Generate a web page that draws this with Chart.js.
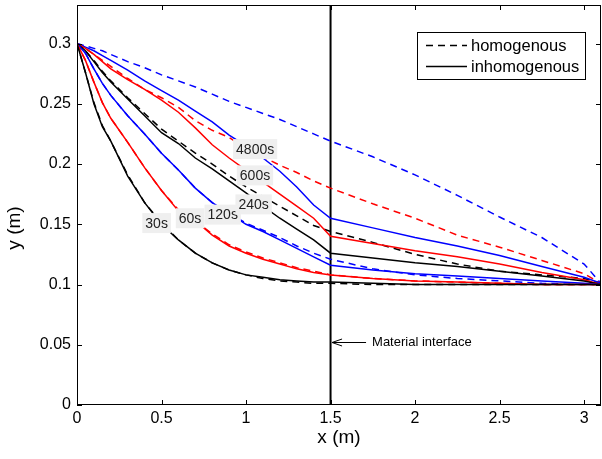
<!DOCTYPE html>
<html>
<head>
<meta charset="utf-8">
<title>Profiles</title>
<script src="https://cdn.jsdelivr.net/npm/chart.js@4.4.0/dist/chart.umd.min.js"></script>
<style>
  body { margin: 0; background: #fff; }
  canvas { display: block; }
</style>
</head>
<body>
<canvas id="chart" width="602" height="459"></canvas>
<script>
// x positions (m) shared by every profile
const xGrid = [0, 0.05, 0.1, 0.15, 0.2, 0.3, 0.4, 0.5, 0.6, 0.7, 0.8, 0.9, 1.0, 1.1, 1.2, 1.3, 1.4, 1.5, 1.75, 2.0, 2.25, 2.5, 2.75, 3.0, 3.1];

// inhomogenous (solid)
const inh30   = [0.300, 0.276, 0.250, 0.231, 0.219, 0.190, 0.168, 0.150, 0.137, 0.126, 0.118, 0.112, 0.108, 0.106, 0.104, 0.103, 0.102, 0.102, 0.101, 0.100, 0.100, 0.100, 0.100, 0.100, 0.100];
const inh60   = [0.300, 0.286, 0.268, 0.251, 0.238, 0.218, 0.197, 0.178, 0.161, 0.153, 0.141, 0.132, 0.126, 0.121, 0.117, 0.113, 0.110, 0.108, 0.105, 0.103, 0.102, 0.101, 0.100, 0.100, 0.100];
const inh120  = [0.300, 0.292, 0.279, 0.267, 0.257, 0.240, 0.225, 0.209, 0.195, 0.180, 0.168, 0.159, 0.150, 0.144, 0.137, 0.130, 0.123, 0.116, 0.112, 0.109, 0.107, 0.105, 0.103, 0.101, 0.100];
const inh240  = [0.300, 0.294, 0.285, 0.276, 0.268, 0.254, 0.240, 0.226, 0.217, 0.205, 0.196, 0.186, 0.176, 0.165, 0.155, 0.146, 0.137, 0.126, 0.122, 0.118, 0.115, 0.111, 0.107, 0.103, 0.100];
const inh600  = [0.300, 0.296, 0.291, 0.285, 0.279, 0.270, 0.262, 0.253, 0.243, 0.230, 0.216, 0.205, 0.195, 0.185, 0.175, 0.165, 0.155, 0.140, 0.134, 0.128, 0.123, 0.117, 0.110, 0.104, 0.100];
const inh4800 = [0.300, 0.297, 0.294, 0.290, 0.286, 0.278, 0.269, 0.261, 0.253, 0.244, 0.235, 0.224, 0.215, 0.205, 0.194, 0.181, 0.166, 0.155, 0.147, 0.139, 0.132, 0.124, 0.115, 0.106, 0.101];

// homogenous (dashed)
const hom30   = [0.300, 0.276, 0.251, 0.232, 0.219, 0.191, 0.168, 0.151, 0.137, 0.126, 0.118, 0.112, 0.108, 0.105, 0.103, 0.102, 0.101, 0.101, 0.100, 0.100, 0.100, 0.100, 0.100, 0.100, 0.100];
const hom60   = [0.300, 0.286, 0.268, 0.251, 0.238, 0.218, 0.197, 0.178, 0.162, 0.153, 0.142, 0.133, 0.127, 0.122, 0.118, 0.114, 0.111, 0.108, 0.105, 0.103, 0.102, 0.101, 0.100, 0.100, 0.100];
const hom120  = [0.300, 0.292, 0.279, 0.267, 0.257, 0.240, 0.225, 0.209, 0.195, 0.180, 0.168, 0.159, 0.151, 0.145, 0.139, 0.132, 0.126, 0.121, 0.113, 0.108, 0.105, 0.103, 0.101, 0.100, 0.100];
const hom240  = [0.300, 0.294, 0.286, 0.277, 0.269, 0.255, 0.242, 0.229, 0.219, 0.209, 0.200, 0.190, 0.181, 0.173, 0.165, 0.157, 0.149, 0.144, 0.135, 0.125, 0.117, 0.111, 0.108, 0.105, 0.101];
const hom600  = [0.300, 0.296, 0.291, 0.286, 0.281, 0.271, 0.262, 0.255, 0.247, 0.236, 0.228, 0.222, 0.213, 0.206, 0.199, 0.193, 0.186, 0.180, 0.167, 0.155, 0.141, 0.131, 0.120, 0.109, 0.101];
const hom4800 = [0.300, 0.298, 0.296, 0.294, 0.291, 0.285, 0.280, 0.274, 0.269, 0.264, 0.258, 0.252, 0.247, 0.242, 0.237, 0.231, 0.225, 0.219, 0.206, 0.191, 0.174, 0.156, 0.139, 0.117, 0.101];

const times = ['30s', '60s', '120s', '240s', '600s', '4800s'];
const lineColors = ['#000000', '#ff0000', '#0000ff', '#000000', '#ff0000', '#0000ff'];

// where the time labels sit (data coords)
const labelX = [0.471, 0.669, 0.862, 1.045, 1.053, 1.054];
const labelY = [0.151, 0.155, 0.158, 0.1665, 0.1906, 0.2124];

// tick values and labels
const xTickValues = [0, 0.5, 1, 1.5, 2, 2.5, 3];
const xTickLabels = ['0', '0.5', '1', '1.5', '2', '2.5', '3'];
const yTickValues = [0, 0.05, 0.1, 0.15, 0.2, 0.25, 0.3];
const yTickLabels = ['0', '0.05', '0.1', '0.15', '0.2', '0.25', '0.3'];

const interfaceX = 1.5;
const arrowY = 0.0526;

const FONT = '"Liberation Sans", Arial, Helvetica, sans-serif';

function toPoints(ys) {
    return xGrid.map((x, i) => ({ x: x, y: ys[i] }));
}

const solidSets = [inh30, inh60, inh120, inh240, inh600, inh4800];
const dashedSets = [hom30, hom60, hom120, hom240, hom600, hom4800];

const datasets = [];
solidSets.forEach((ys, i) => {
    datasets.push({
        label: 'inhomogenous ' + times[i],
        data: toPoints(ys),
        borderColor: lineColors[i],
        borderWidth: 1.5,
        pointRadius: 0,
        fill: false,
        tension: 0
    });
});
dashedSets.forEach((ys, i) => {
    datasets.push({
        label: 'homogenous ' + times[i],
        data: toPoints(ys),
        borderColor: lineColors[i],
        borderWidth: 1.5,
        borderDash: [7, 5],
        pointRadius: 0,
        fill: false,
        tension: 0
    });
});
// material interface line
datasets.push({
    label: 'interface',
    data: [{ x: interfaceX, y: 0 }, { x: interfaceX, y: 0.332 }],
    borderColor: '#000000',
    borderWidth: 2,
    pointRadius: 0,
    fill: false
});

// frame, inward ticks, labels, legend, annotation, axis titles
const decorPlugin = {
    id: 'decor',
    afterDraw(chart) {
        const ctx = chart.ctx;
        const area = chart.chartArea;
        const xs = chart.scales.x;
        const ys = chart.scales.y;
        ctx.save();

        // box
        ctx.strokeStyle = '#000';
        ctx.lineWidth = 1;
        ctx.setLineDash([]);
        ctx.strokeRect(area.left + 0.5, area.top + 0.5, area.right - area.left - 1, area.bottom - area.top - 1);

        // inward ticks
        const tl = 5;
        ctx.beginPath();
        xTickValues.forEach(v => {
            const px = Math.round(xs.getPixelForValue(v)) + 0.5;
            ctx.moveTo(px, area.bottom);
            ctx.lineTo(px, area.bottom - tl);
            ctx.moveTo(px, area.top);
            ctx.lineTo(px, area.top + tl);
        });
        yTickValues.forEach(v => {
            const py = Math.round(ys.getPixelForValue(v)) + 0.5;
            ctx.moveTo(area.left, py);
            ctx.lineTo(area.left + tl, py);
            ctx.moveTo(area.right, py);
            ctx.lineTo(area.right - tl, py);
        });
        ctx.stroke();

        // time labels with grey boxes
        ctx.font = '14px ' + FONT;
        ctx.textAlign = 'center';
        ctx.textBaseline = 'middle';
        times.forEach((t, i) => {
            const cx = xs.getPixelForValue(labelX[i]);
            const cy = ys.getPixelForValue(labelY[i]);
            const w = ctx.measureText(t).width + 6;
            const h = 20;
            ctx.fillStyle = '#efefef';
            ctx.fillRect(cx - w / 2, cy - h / 2, w, h);
            ctx.fillStyle = '#222';
            ctx.fillText(t, cx, cy + 1);
        });

        // legend
        const lx = 417.5, ly = 32.5, lw = 168, lh = 47;
        ctx.fillStyle = '#fff';
        ctx.fillRect(lx, ly, lw, lh);
        ctx.strokeStyle = '#000';
        ctx.lineWidth = 1;
        ctx.strokeRect(lx, ly, lw, lh);
        ctx.lineWidth = 1.5;
        ctx.setLineDash([7, 5]);
        ctx.beginPath();
        ctx.moveTo(426, 45.5);
        ctx.lineTo(467, 45.5);
        ctx.stroke();
        ctx.setLineDash([]);
        ctx.beginPath();
        ctx.moveTo(426, 66.5);
        ctx.lineTo(467, 66.5);
        ctx.stroke();
        ctx.fillStyle = '#000';
        ctx.font = '16.5px ' + FONT;
        ctx.textAlign = 'left';
        ctx.fillText('homogenous', 471, 46);
        ctx.fillText('inhomogenous', 471, 67);

        // material interface arrow
        const ax = xs.getPixelForValue(interfaceX) + 1.5;
        const ay = Math.round(ys.getPixelForValue(arrowY)) + 0.5;
        ctx.lineWidth = 1;
        ctx.beginPath();
        ctx.moveTo(ax + 34, ay);
        ctx.lineTo(ax, ay);
        ctx.moveTo(ax + 10, ay - 3.5);
        ctx.lineTo(ax, ay);
        ctx.lineTo(ax + 10, ay + 3.5);
        ctx.stroke();
        ctx.font = '13px ' + FONT;
        ctx.fillText('Material interface', ax + 40, ay);

        // axis titles
        ctx.font = '19px ' + FONT;
        ctx.textAlign = 'center';
        ctx.fillText('x (m)', (area.left + area.right) / 2, 438);
        ctx.translate(15, 228);
        ctx.rotate(-Math.PI / 2);
        ctx.fillText('y (m)', 0, 0);

        ctx.restore();
    }
};

const ctx = document.getElementById('chart').getContext('2d');
const chart = new Chart(ctx, {
    type: 'line',
    data: { datasets: datasets },
    options: {
        responsive: false,
        devicePixelRatio: 1,
        animation: false,
        layout: { padding: { top: 5, right: 1, left: 0, bottom: 0 } },
        plugins: {
            legend: { display: false },
            tooltip: { enabled: false }
        },
        scales: {
            x: {
                type: 'linear',
                min: 0,
                max: 3.1,
                grid: { display: false, drawTicks: false },
                border: { display: false },
                afterBuildTicks: scale => { scale.ticks = xTickValues.map(v => ({ value: v })); },
                afterFit: scale => {
                    scale.height = 54;
                    scale.paddingLeft = 0;
                    scale.paddingRight = 0;
                },
                ticks: {
                    padding: 4,
                    color: '#000',
                    font: { size: 16, family: FONT },
                    callback: value => xTickLabels[xTickValues.indexOf(value)]
                }
            },
            y: {
                type: 'linear',
                min: 0,
                max: 0.332,
                grid: { display: false, drawTicks: false },
                border: { display: false },
                afterBuildTicks: scale => { scale.ticks = yTickValues.map(v => ({ value: v })); },
                afterFit: scale => {
                    scale.width = 77;
                    scale.paddingTop = 0;
                    scale.paddingBottom = 0;
                },
                ticks: {
                    padding: 6,
                    color: '#000',
                    font: { size: 16, family: FONT },
                    callback: value => yTickLabels[yTickValues.indexOf(value)]
                }
            }
        }
    },
    plugins: [decorPlugin]
});
</script>
</body>
</html>
